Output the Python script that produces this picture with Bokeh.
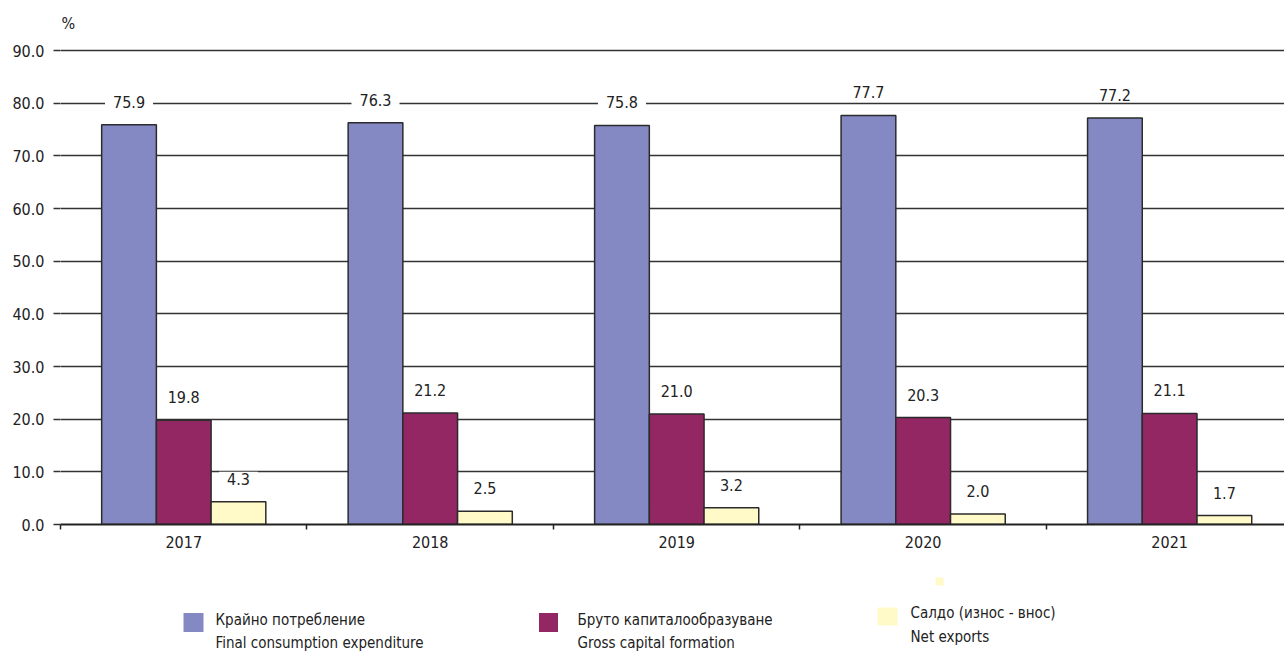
from bokeh.plotting import figure
from bokeh.models import ColumnDataSource, Range1d, FixedTicker, Label
from bokeh.layouts import column
from bokeh.core.properties import value
from bokeh.embed import file_html
from bokeh.resources import INLINE

years = ["2017", "2018", "2019", "2020", "2021"]
final_consumption = [75.9, 76.3, 75.8, 77.7, 77.2]
gross_capital = [19.8, 21.2, 21.0, 20.3, 21.1]
net_exports = [4.3, 2.5, 3.2, 2.0, 1.7]
y_ticks = [0, 10, 20, 30, 40, 50, 60, 70, 80, 90]

series_names = [
    ("Крайно потребление", "Final consumption expenditure"),
    ("Бруто капиталообразуване", "Gross capital formation"),
    ("Салдо (износ - внос)", "Net exports"),
]
colors = ["#8589C3", "#922764", "#FFFAC8"]

FONT = "'Liberation Sans Narrow', 'DejaVu Sans Condensed', sans-serif"
DARK = "#333333"

p = figure(width=1284, height=570, output_backend="svg", toolbar_location=None,
           x_range=Range1d(0, 4.966), y_range=Range1d(0, 98),
           min_border_left=60, min_border_right=0, min_border_top=8, min_border_bottom=46)
p.outline_line_color = None
p.background_fill_color = "white"

bw = 0.222
for k, (vals, col) in enumerate(zip([final_consumption, gross_capital, net_exports], colors)):
    off = (k - 1) * bw
    xs = [i + 0.5 + off for i in range(len(years))]
    src = ColumnDataSource(dict(x=xs, top=vals))
    p.vbar(x="x", top="top", bottom=0, width=bw, source=src,
           fill_color=col, line_color="#2b2b2b", line_width=1.5)
    for xv, v in zip(xs, vals):
        p.add_layout(Label(x=xv, y=v, y_offset=16, text=f"{v:.1f}",
                           text_align="center", text_baseline="bottom",
                           text_font=FONT, text_font_size="16px", text_color="#222222",
                           background_fill_color=None if v >= 77 else "white",
                           padding=dict(left=8, right=8, top=1, bottom=1)))

# y axis
p.yaxis.ticker = FixedTicker(ticks=y_ticks)
p.yaxis.major_label_overrides = {t: f"{t:.1f}" for t in y_ticks}
p.yaxis.axis_line_color = None
p.yaxis.major_tick_out = 7
p.yaxis.major_tick_in = 0
p.yaxis.major_tick_line_color = DARK
p.yaxis.major_tick_line_width = 1.3
p.yaxis.minor_tick_line_color = None
p.yaxis.major_label_standoff = 9
p.yaxis.major_label_text_font = FONT
p.yaxis.major_label_text_font_size = "16px"
p.yaxis.major_label_text_color = "#222222"

p.ygrid.grid_line_color = DARK
p.ygrid.grid_line_width = 1.3
p.xgrid.grid_line_color = None

# x axis
centers = [i + 0.5 for i in range(len(years))]
p.xaxis.ticker = FixedTicker(ticks=centers, minor_ticks=list(range(len(years) + 1)))
p.xaxis.major_label_overrides = {c: y for c, y in zip(centers, years)}
p.xaxis.axis_line_color = "#222222"
p.xaxis.axis_line_width = 2
p.xaxis.major_tick_out = 0
p.xaxis.major_tick_in = 0
p.xaxis.minor_tick_out = 5
p.xaxis.minor_tick_in = 0
p.xaxis.minor_tick_line_color = "#222222"
p.xaxis.minor_tick_line_width = 1.5
p.xaxis.major_label_standoff = 6
p.xaxis.major_label_text_font = FONT
p.xaxis.major_label_text_font_size = "16px"
p.xaxis.major_label_text_color = "#222222"

p.add_layout(Label(x=0, y=90, x_offset=1, y_offset=18, text="%", text_font=FONT,
                   text_font_size="16px", text_color="#222222", text_baseline="bottom"))

# legend figure (its frame is aligned with the main frame: x 60..1284, y 570..652)
lg = figure(width=1284, height=82, output_backend="svg", toolbar_location=None,
            x_range=Range1d(60, 1284), y_range=Range1d(652, 570),
            min_border_left=60, min_border_right=0, min_border_top=0, min_border_bottom=0)
lg.outline_line_color = None
lg.axis.visible = False
lg.grid.visible = False

sq_x = [193, 548, 887]
sq_y = [622, 622, 616]
sq_w = [20, 19, 20]
sq_h = [19, 19, 18]
txt_x = [215, 577, 910]
row1 = [619, 619, 612]
row2 = [642, 642, 636]
lg.rect(x=sq_x, y=sq_y, width=sq_w, height=sq_h, fill_color=colors, line_color=None)
lg.rect(x=[939], y=[581], width=[8], height=[8], fill_color=[colors[2]], line_color=None)
lg.text(x=txt_x, y=row1, text=[n[0] for n in series_names], text_font=value(FONT),
        text_font_size="15px", text_color="#222222", text_baseline="middle")
lg.text(x=txt_x, y=row2, text=[n[1] for n in series_names], text_font=value(FONT),
        text_font_size="15px", text_color="#222222", text_baseline="middle")

layout = column(p, lg, spacing=0)
open("out.html", "w").write(file_html(layout, INLINE))
